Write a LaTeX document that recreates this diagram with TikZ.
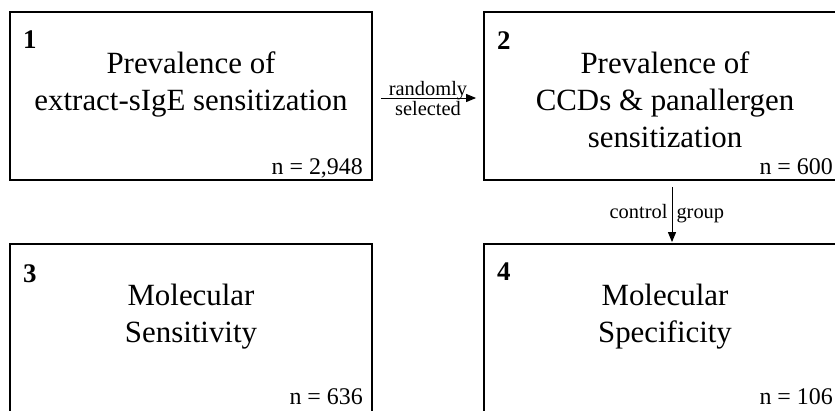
\documentclass[tikz,border=0pt]{standalone}
\usepackage{fontspec}
\setmainfont{Liberation Serif}
\usetikzlibrary{arrows.meta}
\tikzset{
  box/.style={draw, line width=1.8bp, minimum width=362bp, minimum height=168bp, inner sep=0pt},
  maintxt/.style={font=\fontsize{31}{37}\selectfont, anchor=base, inner sep=0pt},
  numlab/.style={font=\fontsize{27}{30}\selectfont\bfseries, anchor=base west, inner sep=0pt},
  nval/.style={font=\fontsize{24}{28}\selectfont, anchor=base east, inner sep=0pt},
  lab/.style={font=\fontsize{20.5}{24}\selectfont, inner sep=0pt},
  arr/.style={line width=1bp, -{Triangle[length=10bp,width=8bp]}},
}
\begin{document}
\begin{tikzpicture}[x=1bp,y=-1bp]
\useasboundingbox (0,0) rectangle (835,410);
\clip (0,0) rectangle (835,410);
% boxes
\node[box] (b1) at (191,96) {};
\node[box] (b2) at (665,96) {};
\node[box] (b3) at (191,328) {};
\node[box] (b4) at (665,328) {};
% box numbers
\node[numlab] (n1) at (23,48) {1};
\node[numlab] (n2) at (497,49) {2};
\node[numlab] (n3) at (23,282) {3};
\node[numlab] (n4) at (497,280) {4};
% box 1 text
\node[maintxt] (t1a) at (191,73) {Prevalence of};
\node[maintxt] (t1b) at (191,110) {extract-sIgE sensitization};
\node[nval] (v1) at (363,174) {n = 2,948};
% box 2 text
\node[maintxt] (t2a) at (665,73) {Prevalence of};
\node[maintxt] (t2b) at (665,110) {CCDs \& panallergen};
\node[maintxt] (t2c) at (665,147) {sensitization};
\node[nval] (v2) at (833,174) {n = 600};
% box 3 text
\node[maintxt] (t3a) at (191,305) {Molecular};
\node[maintxt] (t3b) at (191,342) {Sensitivity};
\node[nval] (v3) at (363,404) {n = 636};
% box 4 text
\node[maintxt] (t4a) at (665,305) {Molecular};
\node[maintxt] (t4b) at (665,342) {Specificity};
\node[nval] (v4) at (833,404) {n = 106};
% connectors
\draw[arr, shorten <=8bp, shorten >=7bp] ([yshift=-2bp]b1.east) -- ([yshift=-2bp]b2.west)
  node[lab, midway, anchor=base, yshift=3bp] (l1) {randomly}
  node[lab, midway, anchor=base, yshift=-17bp] (l2) {selected};
\draw[arr, shorten <=6bp, shorten >=1bp] ([xshift=7bp]b2.south) -- ([xshift=7bp]b4.north)
  node[lab, midway, anchor=base east, xshift=-4bp, yshift=-6.5bp] (l3) {control}
  node[lab, midway, anchor=base west, xshift=4bp, yshift=-6.5bp] (l4) {group};
\end{tikzpicture}
\end{document}
